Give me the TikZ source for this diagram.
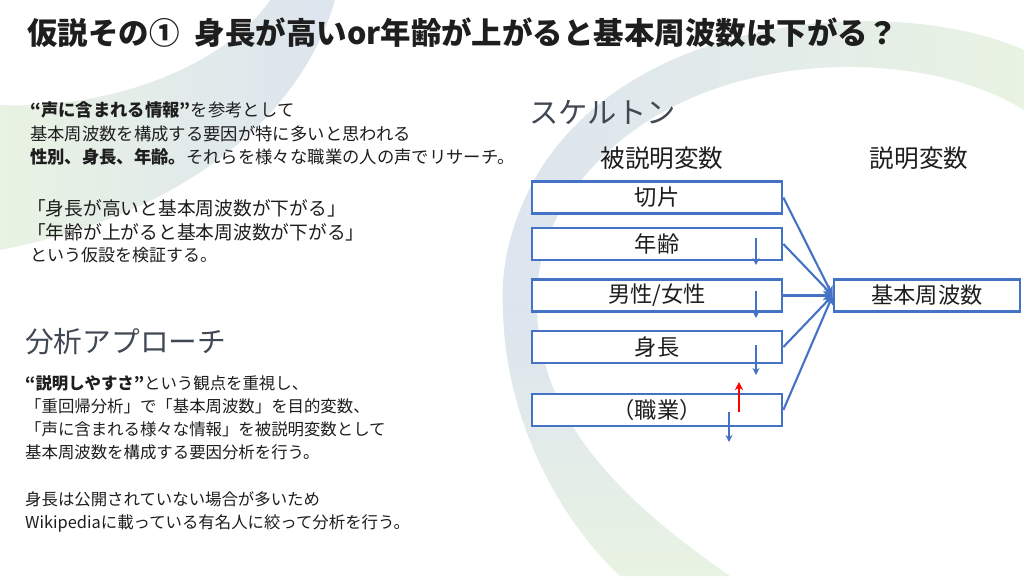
\documentclass[tikz,border=0pt]{standalone}
\usepackage{fontspec}
\setmainfont{Noto Sans CJK JP}
\usetikzlibrary{arrows.meta, calc, positioning}
\definecolor{boxblue}{RGB}{68,114,196}
\definecolor{headgray}{RGB}{64,72,84}
\definecolor{textblack}{RGB}{30,30,30}
\definecolor{swooshblue}{RGB}{170,190,215}
\definecolor{swooshgreen}{RGB}{200,225,185}

\tikzset{
    varbox/.style={draw=boxblue, line width=2.3pt, fill=white, minimum width=7.5cm,
        minimum height=0.96cm, inner sep=0pt, text=textblack, font=\fontsize{19}{19}\selectfont},
    link/.style={boxblue, line width=1.8pt, -{Stealth[length=8pt,width=8pt]}},
    trend/.style={boxblue, line width=1.4pt, -{Stealth[length=6pt,width=6pt]}},
    txt/.style={anchor=north west, align=left, inner sep=0pt, text=textblack},
}

\begin{document}
\begin{tikzpicture}[x=0.03cm, y=-0.03cm]
    \useasboundingbox (0,0) rectangle (1024,576);
    \fill[white] (0,0) rectangle (1024,576);

    % background swooshes
    \shade[left color=swooshgreen, right color=swooshblue, opacity=0.4]
        (270,0) -- (335,0) .. controls (300,120) and (180,215) .. (0,250)
        -- (0,105) .. controls (120,110) and (230,60) .. (270,0) -- cycle;
    \shade[left color=swooshblue, right color=swooshgreen, opacity=0.4]
        (1024,50) .. controls (900,-5) and (640,10) .. (540,170)
        .. controls (510,220) and (500,270) .. (503,310) -- (537,310)
        .. controls (535,260) and (550,215) .. (590,170)
        .. controls (700,45) and (920,45) .. (1024,110) -- cycle;
    \shade[top color=swooshblue, bottom color=swooshgreen, opacity=0.4]
        (503,310) .. controls (505,420) and (560,520) .. (620,576) -- (730,576)
        .. controls (620,500) and (540,420) .. (537,310) -- cycle;

    \node[txt, anchor=west, font=\bfseries\fontsize{26}{26}\selectfont] (title) at (27,33)
        {仮説その①\hspace{0.5em}身長が高いor年齢が上がると基本周波数は下がる？};

    \node[txt, font=\fontsize{14.8}{20.4}\selectfont] (intro) at (30,101)
        {\textbf{“声に含まれる情報”}を参考として\\
         基本周波数を構成する要因が特に多いと思われる\\
         \textbf{性別、身長、年齢。}それらを様々な職業の人の声でリサーチ。};
    \node[txt, font=\fontsize{16}{21.2}\selectfont] (hypo) at (27,199)
        {「身長が高いと基本周波数が下がる」\\「年齢が上がると基本周波数が下がる」};
    \node[txt, anchor=west, font=\fontsize{14.5}{14.5}\selectfont] (verify) at (30,255)
        {という仮設を検証する。};

    \node[txt, anchor=west, text=headgray, font=\fontsize{24.5}{24.5}\selectfont] (approach) at (25,342)
        {分析アプローチ};
    \node[txt, font=\fontsize{14}{19.8}\selectfont] (method) at (25,375)
        {\textbf{“説明しやすさ”}という観点を重視し、\\
         「重回帰分析」で「基本周波数」を目的変数、\\
         「声に含まれる様々な情報」を被説明変数として\\
         基本周波数を構成する要因分析を行う。\\[19.8pt]
         身長は公開されていない場合が多いため\\
         Wikipediaに載っている有名人に絞って分析を行う。};

    \node[txt, anchor=west, text=headgray, font=\fontsize{25}{25}\selectfont] (skeleton) at (529,112)
        {スケルトン};
    \node[text=textblack, font=\fontsize{21}{21}\selectfont] (xhead) at (662,158) {被説明変数};
    \node[text=textblack, font=\fontsize{21}{21}\selectfont] (yhead) at (919,158) {説明変数};

    \node[varbox] (cut) at (657,197.5) {切片};
    \node[varbox] (age) at (657,244) {年齢};
    \node[varbox] (sex) at (657,295.5) {男性/女性};
    \node[varbox] (height) at (657,347) {身長};
    \node[varbox] (job) at (657,410) {（職業）};
    \node[varbox, minimum width=5.58cm] (freq) at (927,295.5) {基本周波数};

    \foreach \src in {cut, age, sex, height, job}
        \draw[link] (\src.east) -- (freq.west);

    \draw[trend] ($(age.center)+(99,-6)$) -- ++(0,27);
    \draw[trend] ($(sex.center)+(99,-4.5)$) -- ++(0,27);
    \draw[trend] ($(height.center)+(99,-2)$) -- ++(0,30);
    \draw[trend] ($(job.center)+(72,2)$) -- ++(0,30);
    \draw[red, line width=1.9pt, -{Stealth[length=7pt,width=7pt]}] ($(job.center)+(82,2)$) -- ++(0,-30);
\end{tikzpicture}
\end{document}
